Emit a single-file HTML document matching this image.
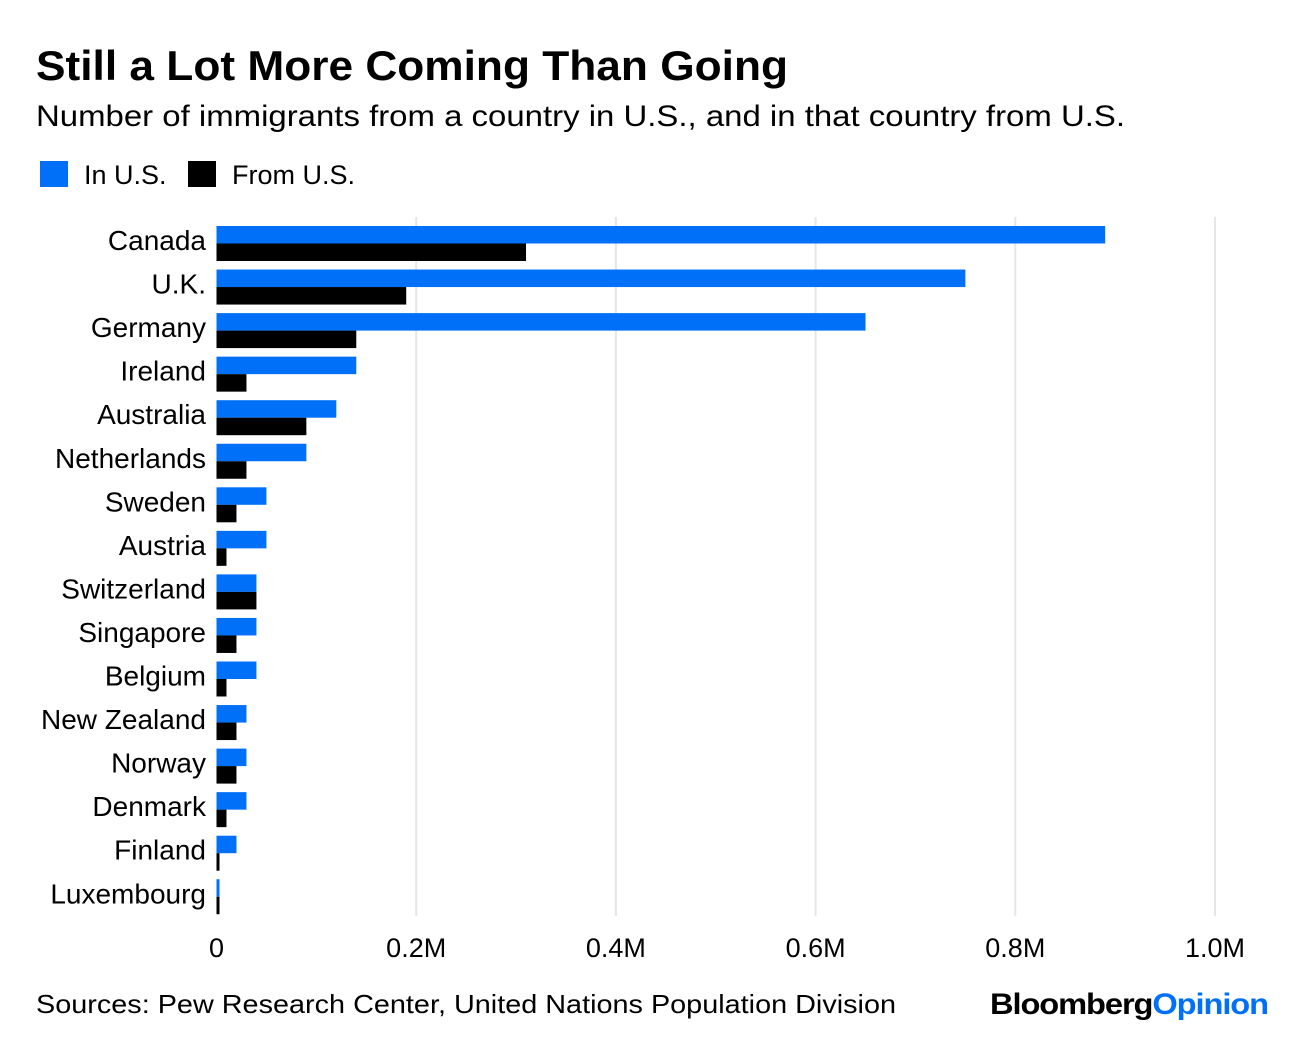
<!DOCTYPE html>
<html><head><meta charset="utf-8"><style>
body{margin:0;background:#fff;width:1296px;height:1036px;overflow:hidden;font-family:"Liberation Sans",sans-serif;}
svg text{font-family:"Liberation Sans",sans-serif;}
</style></head><body>
<svg id="chart" width="1296" height="1036" xmlns="http://www.w3.org/2000/svg">
<text x="36" y="80" font-size="42" font-weight="bold" fill="#000" textLength="752" lengthAdjust="spacingAndGlyphs">Still a Lot More Coming Than Going</text>
<text x="36" y="126" font-size="30" fill="#000" textLength="1089" lengthAdjust="spacingAndGlyphs">Number of immigrants from a country in U.S., and in that country from U.S.</text>
<g>
<rect x="40" y="161" width="28" height="26" fill="#0070f9"/>
<text x="84" y="184" font-size="27">In U.S.</text>
<rect x="188" y="161" width="28" height="26" fill="#000"/>
<text x="232" y="184" font-size="27">From U.S.</text>
</g>
<g id="grid"></g><g id="bars"></g><g id="labels"></g><g id="ticks"></g>
<text x="36" y="1013" font-size="26" textLength="860" lengthAdjust="spacingAndGlyphs">Sources: Pew Research Center, United Nations Population Division</text>
<text x="990" y="1014" font-size="30" font-weight="bold" letter-spacing="-1" textLength="278" lengthAdjust="spacingAndGlyphs">Bloomberg<tspan fill="#0070f9">Opinion</tspan></text>
</svg>
<script>
const categories=["Canada","U.K.","Germany","Ireland","Australia","Netherlands","Sweden","Austria","Switzerland","Singapore","Belgium","New Zealand","Norway","Denmark","Finland","Luxembourg"];
const inUS=[0.89,0.75,0.65,0.14,0.12,0.09,0.05,0.05,0.04,0.04,0.04,0.03,0.03,0.03,0.02,0.003];
const fromUS=[0.31,0.19,0.14,0.03,0.09,0.03,0.02,0.01,0.04,0.02,0.01,0.02,0.02,0.01,0.003,0.003];
const tickValues=[0,0.2,0.4,0.6,0.8,1.0];
const tickLabels=["0","0.2M","0.4M","0.6M","0.8M","1.0M"];
const NS="http://www.w3.org/2000/svg";
const x=v=>216.5+v*998.5;
const y=i=>226+i*43.55;
function mk(tag,attrs,parent){const e=document.createElementNS(NS,tag);for(const k in attrs)e.setAttribute(k,attrs[k]);document.getElementById(parent).appendChild(e);return e;}
tickValues.forEach((t,i)=>{
 if(i>0){const g=mk('line',{x1:x(t),x2:x(t),y1:217,y2:916,stroke:'#e6e6e6','stroke-width':2},'grid');
 
 }
 const tl=mk('text',{x:x(t),y:957,'font-size':27,'text-anchor':'middle'},'ticks');
 tl.textContent=tickLabels[i];
 
 
});
categories.forEach((c,i)=>{
 const b1=mk('rect',{x:216.5,y:y(i),width:Math.max(x(inUS[i])-216.5,0),height:17.5,fill:'#0070f9'},'bars');
 
 
 const b2=mk('rect',{x:216.5,y:y(i)+17.5,width:Math.max(x(fromUS[i])-216.5,0),height:17.5,fill:'#000'},'bars');
 
 
 const t=mk('text',{x:206,y:y(i)+24,'font-size':28,'text-anchor':'end'},'labels');
 t.textContent=c;
 
 
});
</script>
</body></html>
